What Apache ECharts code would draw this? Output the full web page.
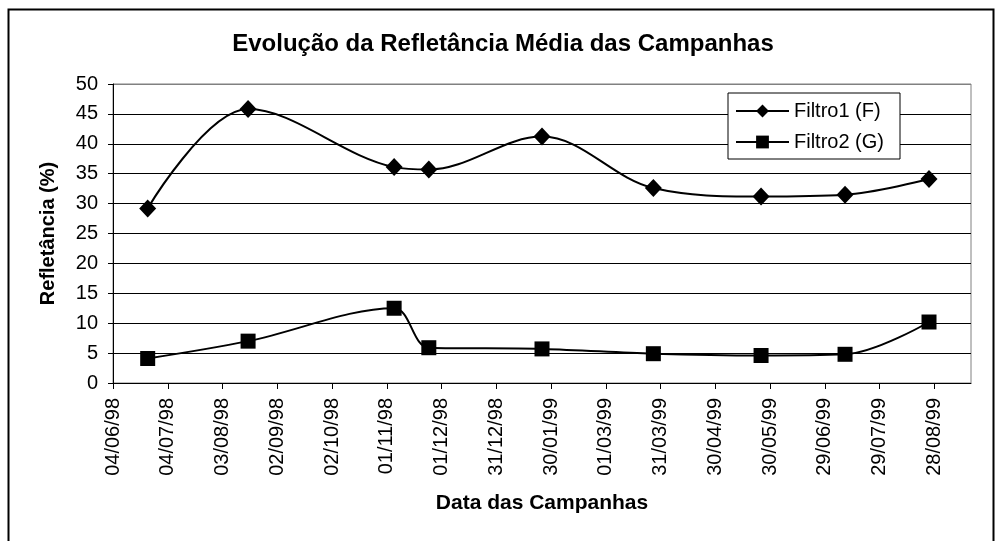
<!DOCTYPE html>
<html>
<head>
<meta charset="utf-8">
<script src="https://cdn.jsdelivr.net/npm/echarts@6/dist/echarts.min.js"></script>
<style>
  html, body { margin: 0; padding: 0; background: #fff; }
  #chart { width: 1006px; height: 541px; }
</style>
</head>
<body>
<div id="chart"></div>
<script>
// campaign dates (dd/mm/yy)
var campaignDates = ["23/06/98", "17/08/98", "05/11/98", "24/11/98", "25/01/99",
                     "27/03/99", "25/05/99", "10/07/99", "25/08/99"];
var filtro1 = [29.2, 45.8, 36.1, 35.7, 41.2, 32.6, 31.2, 31.5, 34.1];
var filtro2 = [4.1, 7.0, 12.5, 5.9, 5.7, 4.9, 4.6, 4.8, 10.2];
var axisStart = "04/06/98";
var axisEndDays = 470;
var tickDays = 30;

function toUtc(s) {
  var p = s.split("/");
  return Date.UTC(1900 + (+p[2] < 50 ? 100 : 0) + (+p[2]), +p[1] - 1, +p[0]);
}
var DAY = 86400000;
var base = toUtc(axisStart);
function dayOffset(s) { return Math.round((toUtc(s) - base) / DAY); }
function pad(n) { return (n < 10 ? "0" : "") + n; }
function fmtDay(d) {
  var t = new Date(base + d * DAY);
  return pad(t.getUTCDate()) + "/" + pad(t.getUTCMonth() + 1) + "/" + String(t.getUTCFullYear()).slice(2);
}

var s1 = campaignDates.map(function (d, i) { return [dayOffset(d), filtro1[i]]; });
var s2 = campaignDates.map(function (d, i) { return [dayOffset(d), filtro2[i]]; });

// gridlines black, top one grey like the plot border
var gridColors = ["#000", "#000", "#000", "#000", "#000", "#000", "#000", "#000", "#000", "#000", "#808080"];

var font = "Liberation Sans, Arial, sans-serif";
var myChart = echarts.init(document.getElementById("chart"));
var option = {
  animation: false,
  backgroundColor: "#fff",
  textStyle: { fontFamily: font },
  title: {
    text: "Evolução da Refletância Média das Campanhas",
    left: "center",
    top: 27,
    textStyle: { fontFamily: font, fontSize: 24, fontWeight: "bold", color: "#000" }
  },
  graphic: [{
    type: "rect",
    shape: { x: 8.5, y: 9.5, width: 985, height: 545 },
    style: { fill: null, stroke: "#000", lineWidth: 2 },
    silent: true
  }],
  legend: {
    orient: "vertical",
    left: 728,
    top: 93,
    padding: [8, 16, 7, 7],
    itemGap: 11,
    itemWidth: 53,
    itemHeight: 16,
    borderColor: "#000",
    borderWidth: 1,
    backgroundColor: "#fff",
    textStyle: { fontFamily: font, fontSize: 20, color: "#000" },
    data: ["Filtro1 (F)", "Filtro2 (G)"]
  },
  grid: { left: 113, right: 35, top: 84, bottom: 158, show: true, borderColor: "#808080", borderWidth: 1 },
  xAxis: {
    type: "value",
    min: 0,
    max: axisEndDays,
    interval: tickDays,
    name: "Data das Campanhas",
    nameLocation: "middle",
    nameGap: 110,
    nameTextStyle: { fontFamily: font, fontSize: 21, fontWeight: "bold", color: "#000" },
    axisLine: { lineStyle: { color: "#000", width: 1 } },
    axisTick: { show: true, length: 6, lineStyle: { color: "#000" } },
    splitLine: { show: false },
    axisLabel: {
      rotate: 90,
      margin: 15,
      fontSize: 20,
      color: "#000",
      fontFamily: font,
      showMaxLabel: false,
      formatter: function (v) { return v % tickDays === 0 ? fmtDay(v) : ""; }
    }
  },
  yAxis: {
    type: "value",
    min: 0,
    max: 50,
    interval: 5,
    name: "Refletância (%)",
    nameLocation: "middle",
    nameGap: 55,
    nameTextStyle: { fontFamily: font, fontSize: 20, fontWeight: "bold", color: "#000" },
    axisLine: { show: true, lineStyle: { color: "#000" } },
    axisTick: { show: true, length: 5, lineStyle: { color: "#000" } },
    splitLine: { show: true, lineStyle: { color: gridColors, width: 1 } },
    axisLabel: { fontSize: 20, color: "#000", fontFamily: font, margin: 15 }
  },
  series: [
    {
      name: "Filtro1 (F)",
      type: "line",
      data: s1,
      smooth: 0.35,
      symbol: "diamond",
      symbolSize: [17, 18],
      lineStyle: { color: "#000", width: 2 },
      itemStyle: { color: "#000" },
      z: 3
    },
    {
      name: "Filtro2 (G)",
      type: "line",
      data: s2,
      smooth: 0.35,
      symbol: "rect",
      symbolSize: 15,
      lineStyle: { color: "#000", width: 2 },
      itemStyle: { color: "#000" },
      z: 3
    }
  ]
};
myChart.setOption(option);
</script>
</body>
</html>
